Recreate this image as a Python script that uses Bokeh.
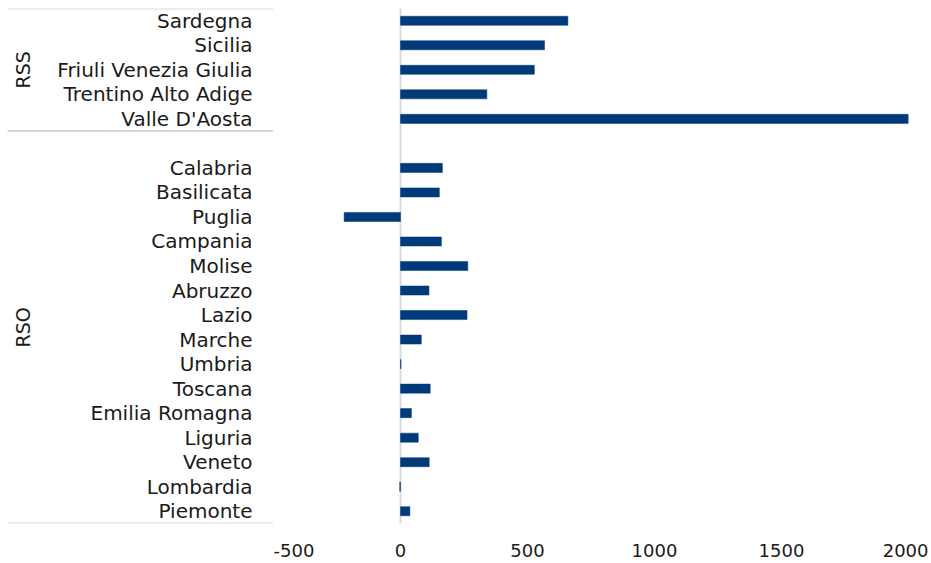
from bokeh.plotting import figure
from bokeh.models import ColumnDataSource, Range1d, FixedTicker, Span
from bokeh.layouts import row
from bokeh.core.properties import value
from bokeh.embed import file_html
from bokeh.resources import INLINE
import math

# ---- data ----
group_names = ["RSS", "RSO"]
rss_regions = ["Sardegna", "Sicilia", "Friuli Venezia Giulia", "Trentino Alto Adige", "Valle D'Aosta"]
rss_values = [659, 567, 527, 340, 2000]
rso_regions = ["Calabria", "Basilicata", "Puglia", "Campania", "Molise", "Abruzzo", "Lazio",
               "Marche", "Umbria", "Toscana", "Emilia Romagna", "Liguria", "Veneto",
               "Lombardia", "Piemonte"]
rso_values = [165, 153, -222, 161, 265, 112, 262, 82, 2, 117, 43, 70, 113, -3, 37]
x_ticks = [-500, 0, 500, 1000, 1500, 2000]
x_tick_labels = ["-500", "0", "500", "1000", "1500", "2000"]

# ---- slot layout (RSS group, then RSO group with one blank leading slot) ----
rss_pos = [i + 0.5 for i in range(len(rss_regions))]
rso_start = len(rss_regions) + 1
rso_pos = [rso_start + i + 0.5 for i in range(len(rso_regions))]
n_slots = rso_start + len(rso_regions)
group_bounds = [(0, len(rss_regions)), (len(rss_regions), n_slots)]

names = rss_regions + rso_regions
pos = rss_pos + rso_pos
vals = rss_values + rso_values

FONT = value("DejaVu Sans")
BAR = "#003a78"
GRID = "#d9d9d9"
TXT = "#1a1a1a"

TOP = 8
FH = 515
BOTTOM = 36
H = TOP + FH + BOTTOM
y_range = Range1d(n_slots, 0)

# ---- left panel: category labels and groups ----
LW = 273
left = figure(width=LW, height=H, x_range=Range1d(0, LW), y_range=y_range,
              output_backend="svg", toolbar_location=None,
              min_border_left=0, min_border_right=0, min_border_top=TOP,
              min_border_bottom=BOTTOM)
left.axis.visible = False
left.grid.visible = False
left.outline_line_color = None

lab_src = ColumnDataSource(dict(x=[252] * len(names), y=pos, t=names))
left.text(x="x", y="y", text="t", source=lab_src, text_align="right",
          text_baseline="middle", text_font=FONT, text_font_size="20px", text_color=TXT)

gy = [(a + b) / 2 for a, b in group_bounds]
grp_src = ColumnDataSource(dict(x=[22] * len(group_names), y=gy, t=group_names))
left.text(x="x", y="y", text="t", source=grp_src, angle=math.pi / 2,
          text_align="center", text_baseline="middle", text_font=FONT,
          text_font_size="19px", text_color=TXT)

sep_y = sorted(set([b for ab in group_bounds for b in ab]))
left.segment(x0=[7] * len(sep_y), x1=[LW] * len(sep_y), y0=sep_y, y1=sep_y,
             line_color=GRID, line_width=2)

# ---- right panel: bars ----
FW = 635
RB = 20
p = figure(width=FW + RB, height=H, x_range=Range1d(-500, 2000), y_range=y_range,
           output_backend="svg", toolbar_location=None,
           min_border_left=0, min_border_right=RB, min_border_top=TOP,
           min_border_bottom=BOTTOM)
p.yaxis.visible = False
p.grid.visible = False
p.outline_line_color = None

p.add_layout(Span(location=0, dimension="height", line_color=GRID, line_width=2,
                  level="underlay"))

bar_src = ColumnDataSource(dict(y=pos, v=vals))
p.hbar(y="y", left=0, right="v", height=0.37, source=bar_src,
       fill_color=BAR, line_color=BAR, line_width=0.5)

p.xaxis.ticker = FixedTicker(ticks=x_ticks)
p.xaxis.major_label_overrides = dict(zip(x_ticks, x_tick_labels))
p.xaxis.axis_line_color = None
p.xaxis.major_tick_line_color = None
p.xaxis.minor_tick_line_color = None
p.xaxis.major_label_standoff = 14
p.xaxis.major_label_text_font = "DejaVu Sans"
p.xaxis.major_label_text_font_size = "18px"
p.xaxis.major_label_text_color = TXT

layout = row(left, p)
open("out.html", "w").write(file_html(layout, INLINE))
